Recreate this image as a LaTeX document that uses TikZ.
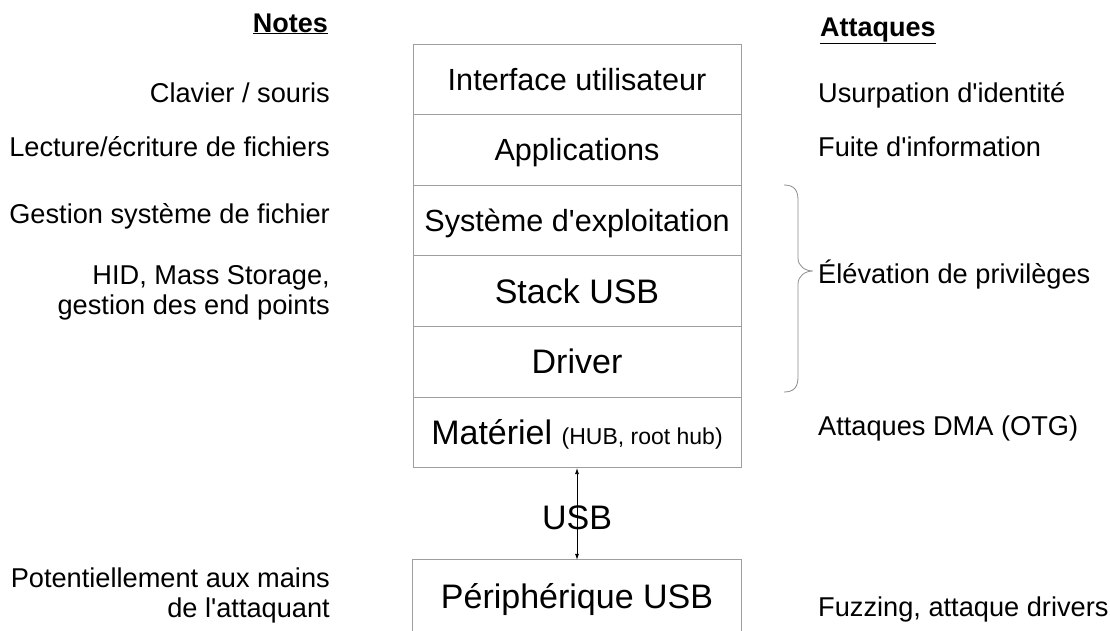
\documentclass[tikz,border=0pt]{standalone}
\usepackage{fontspec}
\setmainfont{Liberation Sans}
\usetikzlibrary{arrows.meta}
\definecolor{boxline}{gray}{0.62}
\definecolor{bracecol}{gray}{0.55}
\newcommand{\sq}{\textquotesingle}
\begin{document}
\begin{tikzpicture}[x=1pt,y=-1pt,
  layer/.style={draw=boxline, line width=0.9pt, minimum width=328pt, minimum height=70.6pt,
    inner sep=0pt, text depth=0pt, anchor=center},
  big/.style={font=\fontsize{34}{40}\selectfont, text height=24.3pt, text depth=0pt},
  mid/.style={font=\fontsize{30.6}{36}\selectfont, text height=21.9pt, text depth=0pt},
  note/.style={font=\fontsize{27.2}{30}\selectfont, inner sep=0pt},
  head/.style={font=\fontsize{27}{30}\selectfont\bfseries, inner sep=0pt},
]
\useasboundingbox (0,0) rectangle (1110,630);
% stack of layers
\node[layer, mid] (ui)   at (577,79.3)  {Interface utilisateur};
\node[layer, mid] (apps) at (577,149.9) {Applications};
\node[layer, mid] (os)   at (577,220.5) {Système d\sq exploitation};
\node[layer, big] (stack) at (577,291.1) {Stack USB};
\node[layer, big] (drv)  at (577,361.7) {Driver};
\node[layer, big] (hw)   at (577,432.3) {Matériel {\fontsize{23}{28}\selectfont (HUB, root hub)}};
% peripheral (cut off at bottom)
\node[minimum width=328pt, minimum height=72pt, inner sep=0pt, big] (periph) at (577,596) {Périphérique USB};
\draw[boxline, line width=0.9pt] (periph.south west) -- (periph.north west) -- (periph.north east) -- (periph.south east);
% USB link
\draw[line width=0.7pt, {Latex[length=6pt,width=4pt]}-{Latex[length=6pt,width=4pt]}] (hw.south) -- (periph.north);
\node[big, inner sep=0pt] (usb) at (577,517) {USB};
% headers
\node[head, anchor=base east] (notes) at (328,32) {\underline{Notes}};
\node[head, anchor=base west] (att) at (820,36) {\underline{Attaques}};
% notes
\node[note, anchor=base east] (n1) at (330,102) {Clavier / souris};
\node[note, anchor=base east] (n2) at (330,156) {Lecture/écriture de fichiers};
\node[note, anchor=base east] (n3) at (330,223) {Gestion système de fichier};
\node[note, anchor=north east, align=right] (n4) at (330,265.5) {HID, Mass Storage,\\gestion des end points};
\node[note, anchor=north east, align=right] (n5) at (330,567.5) {Potentiellement aux mains\\de l\sq attaquant};
% attacks
\node[note, anchor=base west] (a1) at (818,102) {Usurpation d\sq identité};
\node[note, anchor=base west] (a2) at (818,156) {Fuite d\sq information};
\node[note, anchor=base west] (a3) at (818,283) {Élévation de privilèges};
\node[note, anchor=base west] (a4) at (818,435) {Attaques DMA (OTG)};
\node[note, anchor=base west] (a5) at (818,616) {Fuzzing, attaque drivers};
% brace
\coordinate (btip) at (813,271);
\draw[bracecol, line width=0.8pt]
  (784,185) .. controls (794,185) and (798,190) .. (798,200)
  -- (798,258) .. controls (798,266) and (805,271) .. (btip)
  .. controls (805,271) and (798,276) .. (798,284)
  -- (798,377) .. controls (798,387) and (794,392) .. (784,392);
\end{tikzpicture}
\end{document}
